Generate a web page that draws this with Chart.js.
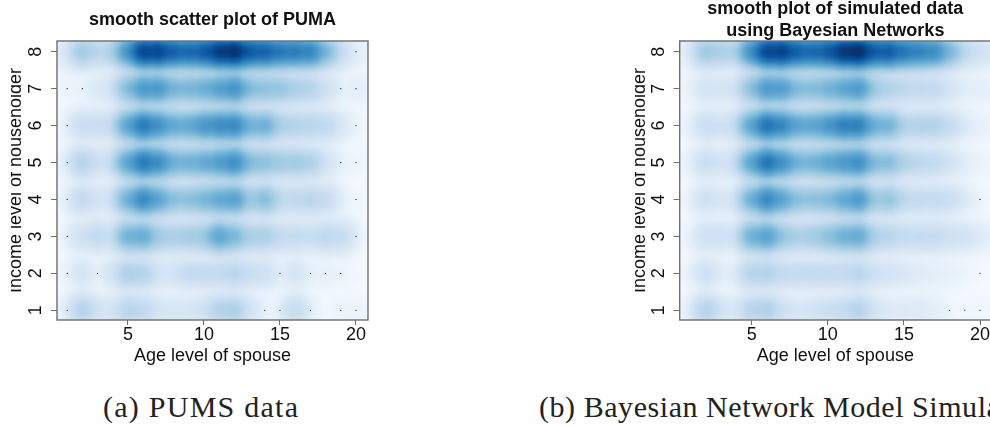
<!DOCTYPE html>
<html><head><meta charset="utf-8">
<style>
html,body{margin:0;padding:0;width:990px;height:426px;overflow:hidden;background:#fff}
canvas{position:absolute;top:0;display:block}
.cap{position:absolute;font-family:"Liberation Serif",serif;font-size:30px;letter-spacing:1.25px;color:#222;white-space:nowrap;line-height:32px}
</style>
<script src="https://cdn.jsdelivr.net/npm/chart.js@4"></script>
</head><body>
<canvas id="a" style="left:11px" width="361" height="367"></canvas>
<canvas id="b" style="left:635px" width="360" height="367"></canvas>
<div class="cap" style="left:103px;top:391px">(a) PUMS data</div>
<div class="cap" style="left:539px;top:391px;letter-spacing:.55px">(b) Bayesian Network Model Simulation</div>
<script>
const ageTicks=[5,10,15,20];
const incomeTicks=[1,2,3,4,5,6,7,8];
const ageLevels=[1,2,3,4,5,6,7,8,9,10,11,12,13,14,15,16,17,18,19,20];
const incomeLevels=[8,7,6,5,4,3,2,1];
// peak shade of every age/income cell (0 = palest, 1 = darkest), rows from income 8 down to 1
const pumaRow8=[.15,.35,.27,.3,.58,.88,.88,.78,.75,.8,.92,.97,.8,.78,.7,.68,.65,.44,.22,.1];
const pumaRow7=[.06,.06,.14,.18,.42,.57,.57,.45,.45,.48,.54,.6,.42,.4,.38,.32,.3,.2,.06,.1];
const pumaRow6=[.06,.22,.22,.22,.52,.7,.6,.5,.5,.58,.62,.64,.46,.48,.32,.3,.28,.26,.14,.05];
const pumaRow5=[.06,.3,.2,.22,.52,.7,.62,.47,.47,.5,.55,.62,.42,.4,.35,.35,.32,.18,.06,.05];
const pumaRow4=[.05,.25,.18,.18,.47,.64,.52,.4,.4,.45,.5,.54,.35,.42,.26,.26,.28,.24,.06,.04];
const pumaRow3=[.05,.2,.25,.2,.47,.49,.35,.32,.34,.36,.52,.44,.32,.32,.24,.24,.22,.26,.24,.05];
const pumaRow2=[.05,.17,.06,.17,.32,.3,.17,.18,.24,.24,.24,.28,.22,.2,.08,.17,.08,.08,.06,0];
const pumaRow1=[.05,.3,.18,.17,.29,.26,.17,.16,.16,.2,.3,.32,.17,.06,.06,.24,.06,0,.06,.06];
const simRow8=[.12,.36,.32,.3,.6,.88,.9,.78,.75,.8,.94,.99,.8,.8,.7,.66,.62,.44,.25,.2];
const simRow7=[.06,.18,.17,.18,.4,.57,.55,.42,.42,.46,.52,.57,.36,.3,.27,.25,.25,.17,.1,.1];
const simRow6=[.06,.22,.2,.22,.52,.72,.64,.52,.52,.58,.67,.67,.48,.46,.3,.3,.3,.24,.12,.08];
const simRow5=[.06,.22,.18,.2,.52,.72,.6,.46,.46,.52,.57,.62,.42,.42,.3,.27,.25,.18,.1,.06];
const simRow4=[.05,.2,.16,.16,.47,.64,.52,.4,.4,.42,.5,.57,.35,.38,.26,.24,.24,.22,.12,.03];
const simRow3=[.05,.2,.2,.18,.47,.54,.38,.32,.34,.4,.47,.5,.32,.28,.24,.24,.24,.2,.18,.12];
const simRow2=[.04,.2,.1,.12,.29,.3,.24,.24,.24,.24,.24,.28,.2,.18,.15,.12,.1,.08,.05,.02];
const simRow1=[.05,.3,.17,.15,.29,.31,.2,.16,.18,.22,.24,.3,.18,.13,.13,.13,.1,.04,.04,.04];
const pumaDotsX=[20,1,2,19,20,1,20,1,19,20,1,20,1,20,1,3,15,17,18,19,1,14,15,17,19,20];
const pumaDotsY=[8,7,7,7,7,6,6,5,5,5,4,4,3,3,2,2,2,2,2,2,1,1,1,1,1,1];
const simDotsX=[20,20,18,19,20];
const simDotsY=[4,2,1,1,1];
const blues=['#F7FBFF','#DEEBF7','#C6DBEF','#9ECAE1','#6BAED6','#4292C6','#2171B5','#08519C','#08306B'];
const rgb=blues.map(h=>[1,3,5].map(i=>parseInt(h.substr(i,2),16)));
function shade(t){
  t=Math.max(0,Math.min(1,t))*(rgb.length-1);
  const i=Math.min(rgb.length-2,Math.floor(t)),f=t-i;
  return rgb[i].map((c,k)=>c+(rgb[i+1][k]-c)*f);
}
const heat={
  id:'heat',
  beforeDatasetsDraw(chart,args,opts){
    const {ctx,chartArea:A,scales:{x,y}}=chart,N=128;
    const off=document.createElement('canvas');off.width=N;off.height=N;
    const oc=off.getContext('2d'),img=oc.createImageData(N,N);
    const sx=x.getPixelForValue(1.45)-x.getPixelForValue(1);
    const sy=y.getPixelForValue(1)-y.getPixelForValue(1.2);
    const px=ageLevels.map(v=>x.getPixelForValue(v));
    const py=incomeLevels.map(v=>y.getPixelForValue(v));
    for(let j=0;j<N;j++){
      const Y=A.top+(j+.5)*A.height/N;
      for(let i=0;i<N;i++){
        const X=A.left+(i+.5)*A.width/N;
        let d=0;
        opts.rows.forEach((row,r)=>{
          const gy=Math.exp(-((Y-py[r])**2)/(2*sy*sy));
          if(gy<1e-6)return;
          row.forEach((v,c)=>{d+=v**4*gy*Math.exp(-((X-px[c])**2)/(2*sx*sx));});
        });
        const col=shade(Math.pow(d,.25)),o=(j*N+i)*4;
        img.data[o]=col[0];img.data[o+1]=col[1];img.data[o+2]=col[2];img.data[o+3]=255;
      }
    }
    oc.putImageData(img,0,0);
    ctx.save();ctx.imageSmoothingEnabled=true;ctx.imageSmoothingQuality='high';
    ctx.drawImage(off,A.left,A.top,A.width,A.height);ctx.restore();
  },
  afterDraw(chart){
    const {ctx,chartArea:A}=chart;
    ctx.save();ctx.strokeStyle='#6e6e6e';ctx.lineWidth=1.4;
    ctx.strokeRect(A.left,A.top,A.width,A.height);ctx.restore();
  }
};
function build(id,title,titlePad,lh,rows,dx,dy,xMin,xMax,leftW){
  new Chart(document.getElementById(id),{
    type:'scatter',
    data:{datasets:[{data:dx.map((v,i)=>({x:v,y:dy[i]})),backgroundColor:'#111',borderWidth:0,pointRadius:.6,pointHoverRadius:.6}]},
    plugins:[heat],
    options:{
      responsive:false,animation:false,events:[],
      layout:{padding:{right:4,left:0,top:0,bottom:0}},
      plugins:{
        legend:{display:false},tooltip:{enabled:false},
        heat:{rows},
        title:{display:true,text:title,fullSize:false,color:'#111',padding:titlePad,
          font:{family:'"Liberation Sans",sans-serif',weight:'bold',size:18,lineHeight:lh}}
      },
      scales:{
        x:{type:'linear',min:xMin,max:xMax,
          afterBuildTicks:s=>{s.ticks=ageTicks.map(v=>({value:v}));},
          afterFit:s=>{s.height=47;},
          border:{display:false},
          grid:{drawOnChartArea:false,drawTicks:true,tickLength:5,color:'#6e6e6e'},
          ticks:{autoSkip:false,maxRotation:0,minRotation:0,padding:0,color:'#111',font:{family:'"Liberation Sans",sans-serif',size:18,lineHeight:1.1}},
          title:{display:true,text:'Age level of spouse',color:'#111',padding:0,font:{family:'"Liberation Sans",sans-serif',size:18}}
        },
        y:{type:'linear',min:.737,max:8.29,
          afterBuildTicks:s=>{s.ticks=incomeTicks.map(v=>({value:v}));},
          afterFit:s=>{s.width=leftW;},
          border:{display:false},
          grid:{drawOnChartArea:false,drawTicks:true,tickLength:6,color:'#6e6e6e'},
          ticks:{autoSkip:false,minRotation:90,maxRotation:90,crossAlign:'center',padding:9.5,color:'#111',font:{family:'"Liberation Sans",sans-serif',size:18}},
          title:{display:true,text:'Income level of householder',color:'#111',padding:0,font:{family:'"Liberation Sans",sans-serif',size:18,lineHeight:.61}}
        }
      }
    }
  });
}
const pumaRows=[pumaRow8,pumaRow7,pumaRow6,pumaRow5,pumaRow4,pumaRow3,pumaRow2,pumaRow1];
const simRows=[simRow8,simRow7,simRow6,simRow5,simRow4,simRow3,simRow2,simRow1];
build('a','smooth scatter plot of PUMA',{top:9.2,bottom:10.2},1.2,pumaRows,pumaDotsX,pumaDotsY,.329,20.79,46);
build('b',['smooth plot of simulated data','using Bayesian Networks'],{top:-1.3,bottom:-0.3},1.183,simRows,simDotsX,simDotsY,.263,20.72,44.7);
</script>
</body></html>
